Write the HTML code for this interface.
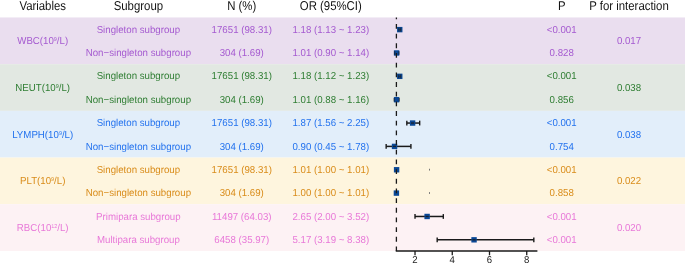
<!DOCTYPE html>
<html><head><meta charset="utf-8"><style>
html,body{margin:0;padding:0;background:#fff;}
body{width:685px;height:264px;position:relative;overflow:hidden;font-family:"Liberation Sans",sans-serif;}
.txt{position:absolute;left:0;top:0;width:685px;height:264px;will-change:transform;text-rendering:geometricPrecision;}
.t{position:absolute;text-align:center;white-space:nowrap;line-height:20px;height:20px;}
svg{position:absolute;left:0;top:0;}
.sp{font-size:5.4px;vertical-align:2.9px;line-height:0;}
</style></head><body>
<svg width="685" height="264" viewBox="0 0 685 264"><rect x="0" y="17.450" width="685" height="46.710" fill="#eadeef"/><rect x="0" y="64.160" width="685" height="46.710" fill="#e2e8e2"/><rect x="0" y="110.870" width="685" height="46.710" fill="#e2eefa"/><rect x="0" y="157.580" width="685" height="46.710" fill="#fef5de"/><rect x="0" y="204.290" width="685" height="46.710" fill="#fdf2f4"/><rect x="397.05" y="26.93" width="5.4" height="5.4" fill="#0a4896"/><line x1="398.82" y1="27.83" x2="398.82" y2="31.43" stroke="#1a1a1a" stroke-width="1.3" opacity="0.55"/><line x1="400.68" y1="27.83" x2="400.68" y2="31.43" stroke="#1a1a1a" stroke-width="1.3" opacity="0.55"/><line x1="398.82" y1="29.63" x2="400.68" y2="29.63" stroke="#1a1a1a" stroke-width="1.2" opacity="0.4"/><rect x="393.89" y="50.28" width="5.4" height="5.4" fill="#0a4896"/><line x1="394.54" y1="51.18" x2="394.54" y2="54.78" stroke="#1a1a1a" stroke-width="1.3" opacity="0.55"/><line x1="399.01" y1="51.18" x2="399.01" y2="54.78" stroke="#1a1a1a" stroke-width="1.3" opacity="0.55"/><rect x="397.05" y="73.64" width="5.4" height="5.4" fill="#0a4896"/><line x1="398.63" y1="74.54" x2="398.63" y2="78.14" stroke="#1a1a1a" stroke-width="1.3" opacity="0.55"/><line x1="400.68" y1="74.54" x2="400.68" y2="78.14" stroke="#1a1a1a" stroke-width="1.3" opacity="0.55"/><line x1="398.63" y1="76.34" x2="400.68" y2="76.34" stroke="#1a1a1a" stroke-width="1.2" opacity="0.4"/><rect x="393.89" y="96.99" width="5.4" height="5.4" fill="#0a4896"/><line x1="394.17" y1="97.89" x2="394.17" y2="101.49" stroke="#1a1a1a" stroke-width="1.3" opacity="0.55"/><line x1="399.38" y1="97.89" x2="399.38" y2="101.49" stroke="#1a1a1a" stroke-width="1.3" opacity="0.55"/><line x1="406.83" y1="123.05" x2="419.67" y2="123.05" stroke="#1a1a1a" stroke-width="1.5"/><rect x="409.90" y="120.35" width="5.4" height="5.4" fill="#0a4896"/><line x1="411.00" y1="123.05" x2="414.20" y2="123.05" stroke="#1a1a1a" stroke-width="1.3" opacity="0.85"/><line x1="406.83" y1="120.65" x2="406.83" y2="125.45" stroke="#1a1a1a" stroke-width="1.4"/><line x1="419.67" y1="120.65" x2="419.67" y2="125.45" stroke="#1a1a1a" stroke-width="1.4"/><line x1="386.16" y1="146.40" x2="410.92" y2="146.40" stroke="#1a1a1a" stroke-width="1.5"/><rect x="391.84" y="143.70" width="5.4" height="5.4" fill="#0a4896"/><line x1="392.94" y1="146.40" x2="396.14" y2="146.40" stroke="#1a1a1a" stroke-width="1.3" opacity="0.85"/><line x1="386.16" y1="144.00" x2="386.16" y2="148.80" stroke="#1a1a1a" stroke-width="1.4"/><line x1="410.92" y1="144.00" x2="410.92" y2="148.80" stroke="#1a1a1a" stroke-width="1.4"/><rect x="393.89" y="167.06" width="5.4" height="5.4" fill="#0a4896"/><rect x="429" y="168.76" width="1" height="1.8" fill="#777"/><rect x="393.70" y="190.41" width="5.4" height="5.4" fill="#0a4896"/><rect x="429" y="192.11" width="1" height="1.8" fill="#777"/><line x1="415.02" y1="216.47" x2="443.32" y2="216.47" stroke="#1a1a1a" stroke-width="1.5"/><rect x="424.42" y="213.77" width="5.4" height="5.4" fill="#0a4896"/><line x1="425.52" y1="216.47" x2="428.72" y2="216.47" stroke="#1a1a1a" stroke-width="1.3" opacity="0.85"/><line x1="415.02" y1="214.07" x2="415.02" y2="218.87" stroke="#1a1a1a" stroke-width="1.4"/><line x1="443.32" y1="214.07" x2="443.32" y2="218.87" stroke="#1a1a1a" stroke-width="1.4"/><line x1="437.18" y1="239.82" x2="533.82" y2="239.82" stroke="#1a1a1a" stroke-width="1.5"/><rect x="471.35" y="237.12" width="5.4" height="5.4" fill="#0a4896"/><line x1="472.45" y1="239.82" x2="475.65" y2="239.82" stroke="#1a1a1a" stroke-width="1.3" opacity="0.85"/><line x1="437.18" y1="237.42" x2="437.18" y2="242.22" stroke="#1a1a1a" stroke-width="1.4"/><line x1="533.82" y1="237.42" x2="533.82" y2="242.22" stroke="#1a1a1a" stroke-width="1.4"/><line x1="396.4" y1="17.45" x2="396.4" y2="251.0" stroke="#1a1a1a" stroke-width="1.3" stroke-dasharray="4.84 4.835" stroke-dashoffset="3.125"/><line x1="395.75" y1="251.0" x2="537.4" y2="251.0" stroke="#1a1a1a" stroke-width="1.6"/><line x1="415.02" y1="251.0" x2="415.02" y2="255.3" stroke="#1a1a1a" stroke-width="1.3"/><line x1="452.26" y1="251.0" x2="452.26" y2="255.3" stroke="#1a1a1a" stroke-width="1.3"/><line x1="489.50" y1="251.0" x2="489.50" y2="255.3" stroke="#1a1a1a" stroke-width="1.3"/><line x1="526.74" y1="251.0" x2="526.74" y2="255.3" stroke="#1a1a1a" stroke-width="1.3"/></svg>
<div class="txt"><div class="t" style="left:-57.30px;top:-3.50px;width:200px;font-size:11.4px;color:#111;transform-origin:50% 13px;transform:scaleY(1.12)">Variables</div><div class="t" style="left:38.40px;top:-3.50px;width:200px;font-size:11.4px;color:#111;transform-origin:50% 13px;transform:scaleY(1.12)">Subgroup</div><div class="t" style="left:141.75px;top:-3.50px;width:200px;font-size:11.4px;color:#111;transform-origin:50% 13px;transform:scaleY(1.12)">N (%)</div><div class="t" style="left:230.80px;top:-3.50px;width:200px;font-size:11.4px;color:#111;transform-origin:50% 13px;transform:scaleY(1.12)">OR (95%CI)</div><div class="t" style="left:461.70px;top:-3.50px;width:200px;font-size:11.4px;color:#111;transform-origin:50% 13px;transform:scaleY(1.12)">P</div><div class="t" style="left:529.00px;top:-3.50px;width:200px;font-size:11.4px;color:#111;transform-origin:50% 13px;transform:scaleY(1.12)">P for interaction</div><div class="t" style="left:-57.30px;top:32.30px;width:200px;font-size:9.7px;color:#a55ad0;transform-origin:50% 12px;transform:scaleY(1.04)">WBC(10<span class=sp>9</span>/L)</div><div class="t" style="left:529.00px;top:32.30px;width:200px;font-size:9.7px;color:#a55ad0;transform-origin:50% 12px;transform:scaleY(1.04)">0.017</div><div class="t" style="left:38.40px;top:20.78px;width:200px;font-size:9.7px;color:#a55ad0;transform-origin:50% 12px;transform:scaleY(1.04)">Singleton subgroup</div><div class="t" style="left:141.75px;top:20.78px;width:200px;font-size:9.7px;color:#a55ad0;transform-origin:50% 12px;transform:scaleY(1.04)">17651 (98.31)</div><div class="t" style="left:230.80px;top:20.78px;width:200px;font-size:9.7px;color:#a55ad0;transform-origin:50% 12px;transform:scaleY(1.04)">1.18 (1.13 ~ 1.23)</div><div class="t" style="left:461.70px;top:20.78px;width:200px;font-size:9.7px;color:#a55ad0;transform-origin:50% 12px;transform:scaleY(1.04)"><0.001</div><div class="t" style="left:38.40px;top:44.13px;width:200px;font-size:9.7px;color:#a55ad0;transform-origin:50% 12px;transform:scaleY(1.04)">Non−singleton subgroup</div><div class="t" style="left:141.75px;top:44.13px;width:200px;font-size:9.7px;color:#a55ad0;transform-origin:50% 12px;transform:scaleY(1.04)">304 (1.69)</div><div class="t" style="left:230.80px;top:44.13px;width:200px;font-size:9.7px;color:#a55ad0;transform-origin:50% 12px;transform:scaleY(1.04)">1.01 (0.90 ~ 1.14)</div><div class="t" style="left:461.70px;top:44.13px;width:200px;font-size:9.7px;color:#a55ad0;transform-origin:50% 12px;transform:scaleY(1.04)">0.828</div><div class="t" style="left:-57.30px;top:79.02px;width:200px;font-size:9.7px;color:#2e7d32;transform-origin:50% 12px;transform:scaleY(1.04)">NEUT(10<span class=sp>9</span>/L)</div><div class="t" style="left:529.00px;top:79.02px;width:200px;font-size:9.7px;color:#2e7d32;transform-origin:50% 12px;transform:scaleY(1.04)">0.038</div><div class="t" style="left:38.40px;top:67.49px;width:200px;font-size:9.7px;color:#2e7d32;transform-origin:50% 12px;transform:scaleY(1.04)">Singleton subgroup</div><div class="t" style="left:141.75px;top:67.49px;width:200px;font-size:9.7px;color:#2e7d32;transform-origin:50% 12px;transform:scaleY(1.04)">17651 (98.31)</div><div class="t" style="left:230.80px;top:67.49px;width:200px;font-size:9.7px;color:#2e7d32;transform-origin:50% 12px;transform:scaleY(1.04)">1.18 (1.12 ~ 1.23)</div><div class="t" style="left:461.70px;top:67.49px;width:200px;font-size:9.7px;color:#2e7d32;transform-origin:50% 12px;transform:scaleY(1.04)"><0.001</div><div class="t" style="left:38.40px;top:90.84px;width:200px;font-size:9.7px;color:#2e7d32;transform-origin:50% 12px;transform:scaleY(1.04)">Non−singleton subgroup</div><div class="t" style="left:141.75px;top:90.84px;width:200px;font-size:9.7px;color:#2e7d32;transform-origin:50% 12px;transform:scaleY(1.04)">304 (1.69)</div><div class="t" style="left:230.80px;top:90.84px;width:200px;font-size:9.7px;color:#2e7d32;transform-origin:50% 12px;transform:scaleY(1.04)">1.01 (0.88 ~ 1.16)</div><div class="t" style="left:461.70px;top:90.84px;width:200px;font-size:9.7px;color:#2e7d32;transform-origin:50% 12px;transform:scaleY(1.04)">0.856</div><div class="t" style="left:-57.30px;top:125.72px;width:200px;font-size:9.7px;color:#2372ee;transform-origin:50% 12px;transform:scaleY(1.04)">LYMPH(10<span class=sp>9</span>/L)</div><div class="t" style="left:529.00px;top:125.72px;width:200px;font-size:9.7px;color:#2372ee;transform-origin:50% 12px;transform:scaleY(1.04)">0.038</div><div class="t" style="left:38.40px;top:114.20px;width:200px;font-size:9.7px;color:#2372ee;transform-origin:50% 12px;transform:scaleY(1.04)">Singleton subgroup</div><div class="t" style="left:141.75px;top:114.20px;width:200px;font-size:9.7px;color:#2372ee;transform-origin:50% 12px;transform:scaleY(1.04)">17651 (98.31)</div><div class="t" style="left:230.80px;top:114.20px;width:200px;font-size:9.7px;color:#2372ee;transform-origin:50% 12px;transform:scaleY(1.04)">1.87 (1.56 ~ 2.25)</div><div class="t" style="left:461.70px;top:114.20px;width:200px;font-size:9.7px;color:#2372ee;transform-origin:50% 12px;transform:scaleY(1.04)"><0.001</div><div class="t" style="left:38.40px;top:137.55px;width:200px;font-size:9.7px;color:#2372ee;transform-origin:50% 12px;transform:scaleY(1.04)">Non−singleton subgroup</div><div class="t" style="left:141.75px;top:137.55px;width:200px;font-size:9.7px;color:#2372ee;transform-origin:50% 12px;transform:scaleY(1.04)">304 (1.69)</div><div class="t" style="left:230.80px;top:137.55px;width:200px;font-size:9.7px;color:#2372ee;transform-origin:50% 12px;transform:scaleY(1.04)">0.90 (0.45 ~ 1.78)</div><div class="t" style="left:461.70px;top:137.55px;width:200px;font-size:9.7px;color:#2372ee;transform-origin:50% 12px;transform:scaleY(1.04)">0.754</div><div class="t" style="left:-57.30px;top:172.44px;width:200px;font-size:9.7px;color:#d98c1a;transform-origin:50% 12px;transform:scaleY(1.04)">PLT(10<span class=sp>9</span>/L)</div><div class="t" style="left:529.00px;top:172.44px;width:200px;font-size:9.7px;color:#d98c1a;transform-origin:50% 12px;transform:scaleY(1.04)">0.022</div><div class="t" style="left:38.40px;top:160.91px;width:200px;font-size:9.7px;color:#d98c1a;transform-origin:50% 12px;transform:scaleY(1.04)">Singleton subgroup</div><div class="t" style="left:141.75px;top:160.91px;width:200px;font-size:9.7px;color:#d98c1a;transform-origin:50% 12px;transform:scaleY(1.04)">17651 (98.31)</div><div class="t" style="left:230.80px;top:160.91px;width:200px;font-size:9.7px;color:#d98c1a;transform-origin:50% 12px;transform:scaleY(1.04)">1.01 (1.00 ~ 1.01)</div><div class="t" style="left:461.70px;top:160.91px;width:200px;font-size:9.7px;color:#d98c1a;transform-origin:50% 12px;transform:scaleY(1.04)"><0.001</div><div class="t" style="left:38.40px;top:184.26px;width:200px;font-size:9.7px;color:#d98c1a;transform-origin:50% 12px;transform:scaleY(1.04)">Non−singleton subgroup</div><div class="t" style="left:141.75px;top:184.26px;width:200px;font-size:9.7px;color:#d98c1a;transform-origin:50% 12px;transform:scaleY(1.04)">304 (1.69)</div><div class="t" style="left:230.80px;top:184.26px;width:200px;font-size:9.7px;color:#d98c1a;transform-origin:50% 12px;transform:scaleY(1.04)">1.00 (1.00 ~ 1.01)</div><div class="t" style="left:461.70px;top:184.26px;width:200px;font-size:9.7px;color:#d98c1a;transform-origin:50% 12px;transform:scaleY(1.04)">0.858</div><div class="t" style="left:-57.30px;top:219.14px;width:200px;font-size:9.7px;color:#e878d8;transform-origin:50% 12px;transform:scaleY(1.04)">RBC(10<span class=sp>12</span>/L)</div><div class="t" style="left:529.00px;top:219.14px;width:200px;font-size:9.7px;color:#e878d8;transform-origin:50% 12px;transform:scaleY(1.04)">0.020</div><div class="t" style="left:38.40px;top:207.62px;width:200px;font-size:9.7px;color:#e878d8;transform-origin:50% 12px;transform:scaleY(1.04)">Primipara subgroup</div><div class="t" style="left:141.75px;top:207.62px;width:200px;font-size:9.7px;color:#e878d8;transform-origin:50% 12px;transform:scaleY(1.04)">11497 (64.03)</div><div class="t" style="left:230.80px;top:207.62px;width:200px;font-size:9.7px;color:#e878d8;transform-origin:50% 12px;transform:scaleY(1.04)">2.65 (2.00 ~ 3.52)</div><div class="t" style="left:461.70px;top:207.62px;width:200px;font-size:9.7px;color:#e878d8;transform-origin:50% 12px;transform:scaleY(1.04)"><0.001</div><div class="t" style="left:38.40px;top:230.97px;width:200px;font-size:9.7px;color:#e878d8;transform-origin:50% 12px;transform:scaleY(1.04)">Multipara subgroup</div><div class="t" style="left:141.75px;top:230.97px;width:200px;font-size:9.7px;color:#e878d8;transform-origin:50% 12px;transform:scaleY(1.04)">6458 (35.97)</div><div class="t" style="left:230.80px;top:230.97px;width:200px;font-size:9.7px;color:#e878d8;transform-origin:50% 12px;transform:scaleY(1.04)">5.17 (3.19 ~ 8.38)</div><div class="t" style="left:461.70px;top:230.97px;width:200px;font-size:9.7px;color:#e878d8;transform-origin:50% 12px;transform:scaleY(1.04)"><0.001</div>
<div class="t" style="left:405.02px;top:250.60px;width:20px;font-size:9.6px;color:#222;transform-origin:50% 12px;transform:scaleY(1.04)">2</div><div class="t" style="left:442.26px;top:250.60px;width:20px;font-size:9.6px;color:#222;transform-origin:50% 12px;transform:scaleY(1.04)">4</div><div class="t" style="left:479.50px;top:250.60px;width:20px;font-size:9.6px;color:#222;transform-origin:50% 12px;transform:scaleY(1.04)">6</div><div class="t" style="left:516.74px;top:250.60px;width:20px;font-size:9.6px;color:#222;transform-origin:50% 12px;transform:scaleY(1.04)">8</div></div>
</body></html>
